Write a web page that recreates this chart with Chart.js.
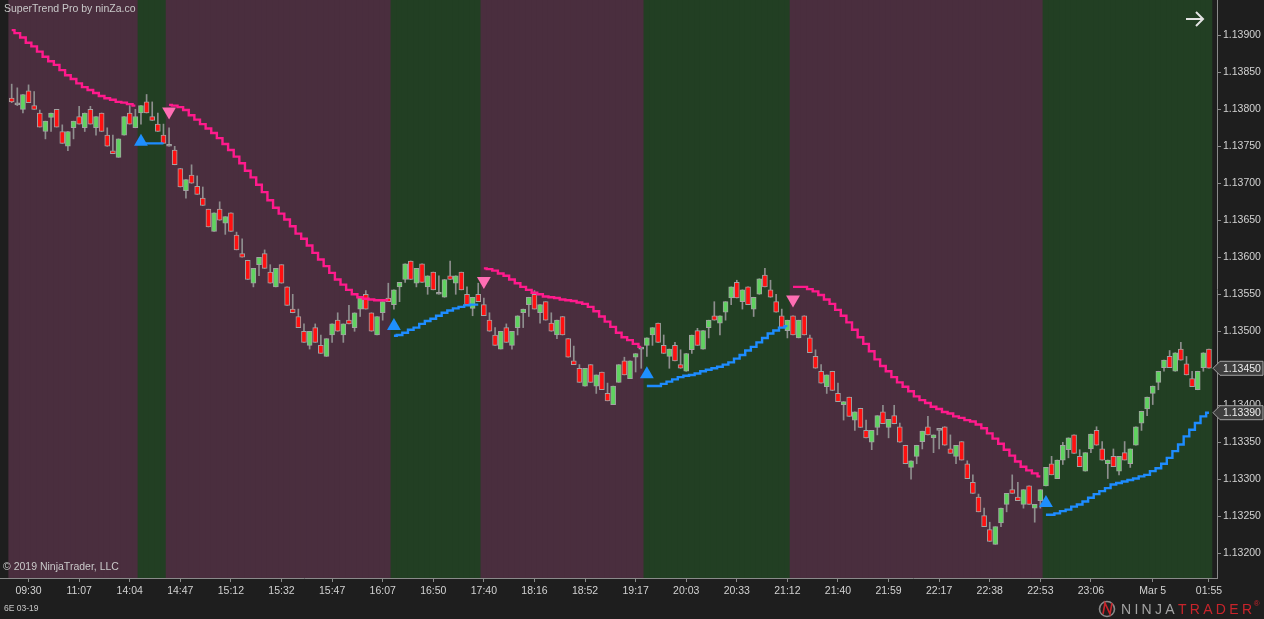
<!DOCTYPE html>
<html>
<head>
<meta charset="utf-8">
<script src="https://cdn.jsdelivr.net/npm/chart.js@4.4.1/dist/chart.umd.min.js"></script>
<style>
  html, body { margin: 0; padding: 0; background: #1e1e1e; overflow: hidden; }
  #wrap { position: relative; width: 1264px; height: 619px; }
</style>
</head>
<body>
<div id="wrap"><canvas id="myChart"></canvas></div>
<script>
/* 6E 03-19, SuperTrend Pro - one candle per slot, 214 bars */
const barOpen = [
  1.13815,1.13806,1.13800,1.13825,1.13805,1.13795,1.13770,1.13789,1.13800,1.13770,
  1.13750,1.13775,1.13790,1.13775,1.13800,1.13775,1.13795,1.13765,1.13744,1.13735,
  1.13765,1.13795,1.13775,1.13795,1.13810,1.13790,1.13780,1.13765,1.13750,1.13745,
  1.13720,1.13690,1.13711,1.13696,1.13680,1.13665,1.13635,1.13665,1.13646,1.13660,
  1.13630,1.13605,1.13596,1.13565,1.13590,1.13605,1.13580,1.13560,1.13590,1.13560,
  1.13530,1.13520,1.13500,1.13481,1.13505,1.13481,1.13466,1.13495,1.13515,1.13495,
  1.13515,1.13505,1.13530,1.13550,1.13525,1.13495,1.13525,1.13545,1.13536,1.13560,
  1.13570,1.13595,1.13565,1.13591,1.13560,1.13580,1.13550,1.13546,1.13575,1.13565,
  1.13580,1.13550,1.13531,1.13550,1.13536,1.13515,1.13495,1.13476,1.13505,1.13481,
  1.13505,1.13525,1.13536,1.13550,1.13525,1.13540,1.13511,1.13495,1.13520,1.13490,
  1.13460,1.13450,1.13426,1.13455,1.13426,1.13445,1.13416,1.13401,1.13431,1.13460,
  1.13436,1.13465,1.13476,1.13481,1.13495,1.13511,1.13481,1.13466,1.13481,1.13455,
  1.13446,1.13475,1.13501,1.13476,1.13505,1.13521,1.13511,1.13526,1.13545,1.13566,
  1.13540,1.13560,1.13530,1.13550,1.13576,1.13556,1.13540,1.13521,1.13501,1.13521,
  1.13491,1.13521,1.13491,1.13466,1.13446,1.13425,1.13446,1.13416,1.13401,1.13411,
  1.13380,1.13396,1.13366,1.13350,1.13370,1.13391,1.13370,1.13386,1.13371,1.13346,
  1.13316,1.13331,1.13351,1.13371,1.13356,1.13366,1.13371,1.13341,1.13331,1.13351,
  1.13321,1.13296,1.13276,1.13251,1.13232,1.13212,1.13241,1.13266,1.13286,1.13276,
  1.13266,1.13291,1.13261,1.13271,1.13291,1.13321,1.13301,1.13326,1.13340,1.13360,
  1.13331,1.13311,1.13341,1.13366,1.13341,1.13321,1.13331,1.13311,1.13336,1.13321,
  1.13346,1.13376,1.13395,1.13416,1.13431,1.13451,1.13466,1.13446,1.13476,1.13456,
  1.13436,1.13421,1.13451,1.13476
];
const barHigh = [
  1.13834,1.13829,1.13820,1.13833,1.13824,1.13799,1.13784,1.13795,1.13800,1.13779,
  1.13770,1.13784,1.13804,1.13795,1.13804,1.13790,1.13795,1.13775,1.13765,1.13760,
  1.13790,1.13805,1.13800,1.13805,1.13820,1.13810,1.13795,1.13780,1.13775,1.13750,
  1.13720,1.13705,1.13725,1.13710,1.13695,1.13665,1.13660,1.13675,1.13655,1.13660,
  1.13634,1.13625,1.13596,1.13585,1.13600,1.13610,1.13590,1.13585,1.13590,1.13560,
  1.13550,1.13530,1.13510,1.13500,1.13510,1.13495,1.13490,1.13510,1.13525,1.13510,
  1.13535,1.13525,1.13545,1.13555,1.13525,1.13520,1.13540,1.13565,1.13556,1.13566,
  1.13591,1.13595,1.13585,1.13591,1.13575,1.13580,1.13575,1.13570,1.13595,1.13575,
  1.13580,1.13560,1.13546,1.13565,1.13545,1.13525,1.13505,1.13500,1.13510,1.13500,
  1.13521,1.13530,1.13546,1.13555,1.13536,1.13540,1.13525,1.13515,1.13520,1.13490,
  1.13480,1.13455,1.13450,1.13455,1.13441,1.13445,1.13430,1.13426,1.13455,1.13465,
  1.13460,1.13470,1.13476,1.13491,1.13505,1.13511,1.13495,1.13476,1.13485,1.13475,
  1.13470,1.13495,1.13504,1.13501,1.13515,1.13540,1.13521,1.13540,1.13560,1.13569,
  1.13556,1.13560,1.13546,1.13571,1.13585,1.13569,1.13550,1.13530,1.13515,1.13521,
  1.13515,1.13521,1.13495,1.13475,1.13455,1.13441,1.13446,1.13430,1.13405,1.13411,
  1.13391,1.13396,1.13380,1.13366,1.13386,1.13400,1.13381,1.13400,1.13376,1.13346,
  1.13325,1.13346,1.13365,1.13385,1.13360,1.13366,1.13371,1.13360,1.13346,1.13351,
  1.13325,1.13306,1.13280,1.13261,1.13242,1.13236,1.13261,1.13281,1.13306,1.13296,
  1.13286,1.13291,1.13266,1.13286,1.13316,1.13331,1.13326,1.13350,1.13356,1.13360,
  1.13340,1.13336,1.13361,1.13371,1.13351,1.13326,1.13341,1.13331,1.13351,1.13341,
  1.13371,1.13392,1.13411,1.13426,1.13446,1.13461,1.13474,1.13471,1.13485,1.13466,
  1.13446,1.13446,1.13471,1.13476
];
const barLow = [
  1.13809,1.13805,1.13795,1.13809,1.13800,1.13776,1.13760,1.13770,1.13776,1.13754,
  1.13744,1.13760,1.13780,1.13770,1.13780,1.13765,1.13770,1.13750,1.13740,1.13735,
  1.13765,1.13780,1.13775,1.13780,1.13795,1.13785,1.13770,1.13754,1.13750,1.13725,
  1.13695,1.13680,1.13700,1.13685,1.13670,1.13641,1.13635,1.13650,1.13631,1.13635,
  1.13610,1.13600,1.13570,1.13560,1.13575,1.13585,1.13565,1.13560,1.13565,1.13535,
  1.13525,1.13505,1.13485,1.13476,1.13485,1.13470,1.13466,1.13485,1.13500,1.13485,
  1.13510,1.13500,1.13520,1.13530,1.13500,1.13495,1.13515,1.13540,1.13530,1.13540,
  1.13566,1.13570,1.13560,1.13566,1.13550,1.13556,1.13550,1.13546,1.13570,1.13550,
  1.13556,1.13536,1.13521,1.13540,1.13521,1.13500,1.13481,1.13476,1.13485,1.13476,
  1.13495,1.13505,1.13520,1.13530,1.13511,1.13515,1.13500,1.13490,1.13495,1.13465,
  1.13455,1.13431,1.13426,1.13431,1.13416,1.13421,1.13406,1.13401,1.13431,1.13441,
  1.13436,1.13445,1.13450,1.13466,1.13481,1.13485,1.13470,1.13450,1.13460,1.13450,
  1.13446,1.13470,1.13481,1.13476,1.13491,1.13515,1.13495,1.13515,1.13536,1.13545,
  1.13530,1.13536,1.13520,1.13550,1.13560,1.13546,1.13526,1.13505,1.13491,1.13495,
  1.13491,1.13495,1.13471,1.13450,1.13430,1.13416,1.13420,1.13405,1.13380,1.13385,
  1.13366,1.13370,1.13356,1.13340,1.13360,1.13375,1.13356,1.13375,1.13350,1.13321,
  1.13300,1.13321,1.13341,1.13360,1.13336,1.13341,1.13346,1.13335,1.13321,1.13326,
  1.13301,1.13281,1.13256,1.13236,1.13216,1.13212,1.13236,1.13256,1.13281,1.13271,
  1.13261,1.13266,1.13242,1.13261,1.13291,1.13306,1.13301,1.13320,1.13329,1.13335,
  1.13317,1.13311,1.13336,1.13346,1.13326,1.13301,1.13317,1.13306,1.13326,1.13316,
  1.13346,1.13366,1.13386,1.13401,1.13421,1.13446,1.13451,1.13446,1.13461,1.13441,
  1.13425,1.13421,1.13446,1.13450
];
const barClose = [
  1.13810,1.13806,1.13820,1.13809,1.13800,1.13776,1.13784,1.13795,1.13776,1.13754,
  1.13770,1.13784,1.13780,1.13795,1.13780,1.13790,1.13770,1.13750,1.13740,1.13760,
  1.13790,1.13780,1.13790,1.13805,1.13795,1.13785,1.13770,1.13754,1.13750,1.13725,
  1.13695,1.13705,1.13700,1.13685,1.13670,1.13641,1.13660,1.13650,1.13655,1.13635,
  1.13610,1.13600,1.13570,1.13585,1.13600,1.13585,1.13565,1.13585,1.13565,1.13535,
  1.13525,1.13505,1.13485,1.13500,1.13485,1.13470,1.13490,1.13510,1.13500,1.13510,
  1.13510,1.13525,1.13545,1.13530,1.13500,1.13520,1.13540,1.13540,1.13556,1.13566,
  1.13591,1.13570,1.13585,1.13566,1.13575,1.13556,1.13550,1.13570,1.13570,1.13575,
  1.13556,1.13536,1.13546,1.13540,1.13521,1.13500,1.13481,1.13500,1.13485,1.13500,
  1.13521,1.13530,1.13546,1.13530,1.13536,1.13515,1.13500,1.13515,1.13495,1.13465,
  1.13455,1.13431,1.13450,1.13431,1.13441,1.13421,1.13406,1.13426,1.13455,1.13441,
  1.13460,1.13470,1.13476,1.13491,1.13505,1.13485,1.13470,1.13476,1.13460,1.13450,
  1.13470,1.13495,1.13481,1.13501,1.13515,1.13515,1.13521,1.13540,1.13560,1.13545,
  1.13556,1.13536,1.13546,1.13571,1.13560,1.13546,1.13526,1.13505,1.13515,1.13495,
  1.13515,1.13495,1.13471,1.13450,1.13430,1.13441,1.13420,1.13405,1.13405,1.13385,
  1.13391,1.13370,1.13356,1.13366,1.13386,1.13375,1.13381,1.13375,1.13350,1.13321,
  1.13325,1.13346,1.13365,1.13360,1.13360,1.13366,1.13346,1.13335,1.13346,1.13326,
  1.13301,1.13281,1.13256,1.13236,1.13216,1.13236,1.13261,1.13281,1.13281,1.13271,
  1.13286,1.13266,1.13266,1.13286,1.13316,1.13306,1.13326,1.13346,1.13356,1.13335,
  1.13317,1.13336,1.13361,1.13346,1.13326,1.13326,1.13317,1.13331,1.13326,1.13341,
  1.13371,1.13392,1.13411,1.13426,1.13446,1.13461,1.13451,1.13471,1.13461,1.13441,
  1.13425,1.13446,1.13471,1.13450
];

/* SuperTrend: bearish (pink, above price) and bullish (blue, below price) runs */
const downRunStart = [0, 28, 84, 139];
const downRunValues = [
  [1.13907,1.13903,1.13897,1.13890,1.13885,1.13878,1.13871,1.13865,1.13860,1.13853,1.13846,1.13841,
   1.13835,1.13830,1.13826,1.13822,1.13818,1.13815,1.13813,1.13810,1.13809,1.13807,1.13805],
  [1.13806,1.13805,1.13803,1.13799,1.13792,1.13786,1.13780,1.13774,1.13768,1.13761,
   1.13753,1.13745,1.13736,1.13727,1.13717,1.13708,1.13698,1.13688,1.13677,1.13667,
   1.13659,1.13651,1.13642,1.13632,1.13625,1.13616,1.13606,1.13597,1.13588,1.13579,
   1.13570,1.13563,1.13556,1.13550,1.13546,1.13544,1.13543,1.13542,1.13542,1.13542],
  [1.13585,1.13584,1.13582,1.13578,1.13575,1.13570,1.13565,1.13560,1.13556,1.13552,
   1.13550,1.13547,1.13546,1.13545,1.13543,1.13542,1.13541,1.13539,1.13537,1.13533,
   1.13527,1.13520,1.13513,1.13506,1.13498,1.13492,1.13488,1.13483,1.13479],
  [1.13560,1.13560,1.13560,1.13557,1.13554,1.13549,1.13543,1.13537,1.13529,1.13521,
   1.13512,1.13502,1.13492,1.13483,1.13473,1.13462,1.13453,1.13446,1.13438,1.13431,
   1.13425,1.13419,1.13412,1.13407,1.13403,1.13398,1.13395,1.13391,1.13389,1.13385,
   1.13383,1.13380,1.13378,1.13374,1.13369,1.13362,1.13355,1.13348,1.13340,1.13332,
   1.13324,1.13317,1.13312,1.13308,1.13304]
];
const upRunStart = [23, 68, 113, 184];
const upRunValues = [
  [1.13754,1.13754,1.13754,1.13754,1.13754],
  [1.13494,1.13495,1.13498,1.13502,1.13505,1.13510,1.13514,1.13517,1.13521,1.13525,
   1.13528,1.13531,1.13533,1.13535,1.13536,1.13536],
  [1.13426,1.13426,1.13426,1.13429,1.13432,1.13435,1.13438,1.13440,1.13441,1.13443,
   1.13446,1.13448,1.13450,1.13452,1.13455,1.13458,1.13463,1.13468,1.13474,1.13479,
   1.13485,1.13491,1.13497,1.13501,1.13505,1.13507],
  [1.13252,1.13252,1.13254,1.13257,1.13259,1.13263,1.13266,1.13270,1.13275,1.13280,
   1.13284,1.13288,1.13293,1.13295,1.13297,1.13299,1.13301,1.13304,1.13306,1.13311,
   1.13315,1.13321,1.13329,1.13338,1.13347,1.13358,1.13367,1.13376,1.13385,1.13390]
];

/* trend change arrows: [bar, price] */
const upArrows = [[23, 1.13756], [68, 1.13507], [113, 1.13442], [184, 1.13268]];
const downArrows = [[28, 1.13797], [84, 1.13568], [139, 1.13543]];

/* axis ticks */
const timeTickBars = [3, 12, 21, 30, 39, 48, 57, 66, 75, 84, 93, 102, 111, 120, 129, 138, 147, 156, 165, 174, 183, 192, 203, 213];
const timeTickLabels = ["09:30", "11:07", "14:04", "14:47", "15:12", "15:32", "15:47", "16:07", "16:50", "17:40", "18:16", "18:52",
  "19:17", "20:03", "20:33", "21:12", "21:40", "21:59", "22:17", "22:38", "22:53", "23:06", "Mar 5", "01:55"];
const priceTicks = [1.132, 1.1325, 1.133, 1.1335, 1.134, 1.1345, 1.135, 1.1355, 1.136, 1.1365, 1.137, 1.1375, 1.138, 1.1385, 1.139];

const yMin = 1.131666, yMax = 1.139477;
const xMin = -2.08, xMax = 214.43;

const MAROON = '#4a2e3e', GREEN = '#223f23';
const PINK = '#ff1a8c', BLUE = '#1e8cff';
const UP_BODY = '#5fd35f', DOWN_BODY = '#ff1010', FLAT_BODY = '#8c8c8c';

const n = barClose.length;
const downLine = new Array(n).fill(null);
const upLine = new Array(n).fill(null);
downRunStart.forEach((s, k) => downRunValues[k].forEach((v, j) => { downLine[s + j] = v; }));
upRunStart.forEach((s, k) => upRunValues[k].forEach((v, j) => { upLine[s + j] = v; }));

const shadeData = [], shadeColors = [], wickData = [], bodyData = [], bodyColors = [];
for (let i = 0; i < n; i++) {
    shadeData.push({x: i, y: [yMin, yMax]});
    shadeColors.push(downLine[i] !== null ? MAROON : GREEN);
    wickData.push({x: i, y: [barLow[i], barHigh[i]]});
    bodyData.push({x: i, y: [barOpen[i], barClose[i]]});
    if (barClose[i] > barOpen[i]) bodyColors.push(UP_BODY);
    else if (barClose[i] < barOpen[i]) bodyColors.push(DOWN_BODY);
    else bodyColors.push(FLAT_BODY);
}

const FONT = "'Liberation Sans', Arial, sans-serif";
Chart.defaults.font.family = FONT;
Chart.defaults.font.size = 10.5;
Chart.defaults.color = '#d2d2d2';

/* texts, price markers and logo drawn over the chart */
const overlay = {
    id: 'overlay',
    afterDraw(chart) {
        const c = chart.ctx, area = chart.chartArea, ys = chart.scales.y;
        c.save();
        c.textBaseline = 'middle';
        c.textAlign = 'left';

        c.fillStyle = '#c9c9c9';
        c.font = "10.5px " + FONT;
        c.fillText('SuperTrend Pro by ninZa.co', 4, 9);
        c.fillText('\u00a9 2019 NinjaTrader, LLC', 3, 567);
        c.font = "8.5px " + FONT;
        c.fillText('6E 03-19', 4, 609);

        // arrow in the top right corner
        c.strokeStyle = '#e4e4e4';
        c.lineWidth = 2;
        c.beginPath();
        c.moveTo(1186, 19); c.lineTo(1203, 19);
        c.moveTo(1196, 12); c.lineTo(1203, 19); c.lineTo(1196, 26);
        c.stroke();

        // price markers on the right axis
        const marker = (price) => {
            const yp = ys.getPixelForValue(price);
            const x0 = area.right - 4, x1 = chart.width - 1, h = 14;
            c.beginPath();
            c.moveTo(x0, yp);
            c.lineTo(x0 + 7, yp - h / 2);
            c.lineTo(x1, yp - h / 2);
            c.lineTo(x1, yp + h / 2);
            c.lineTo(x0 + 7, yp + h / 2);
            c.closePath();
            c.fillStyle = '#3e3e3e';
            c.fill();
            c.lineWidth = 1;
            c.strokeStyle = '#a4a4a4';
            c.stroke();
            c.fillStyle = '#ececec';
            c.font = "10.5px " + FONT;
            c.fillText(price.toFixed(5), x0 + 10, yp + 0.5);
        };
        marker(barClose[n - 1]);
        marker(upLine[n - 1]);

        // NinjaTrader logo
        c.lineWidth = 1.6;
        c.strokeStyle = '#8a8a8a';
        c.beginPath(); c.arc(1107, 609, 7.5, 0, Math.PI * 2); c.stroke();
        c.strokeStyle = '#c8242b';
        c.beginPath(); c.moveTo(1103, 614); c.lineTo(1105, 603); c.lineTo(1110, 614); c.lineTo(1112, 603); c.stroke();
        c.font = "14px " + FONT;
        let lx = 1121;
        const word = 'NINJATRADER';
        for (let i = 0; i < word.length; i++) {
            c.fillStyle = i < 5 ? '#a3a3a3' : '#c8242b';
            c.fillText(word[i], lx, 610);
            lx += c.measureText(word[i]).width + 3.3;
        }
        c.font = "8px " + FONT;
        c.fillText('\u00ae', lx - 1.5, 604);
        c.restore();
    }
};

const chart = new Chart(document.getElementById('myChart'), {
    type: 'bar',
    data: {
        datasets: [
            {
                label: 'shade',
                data: shadeData,
                backgroundColor: shadeColors,
                barThickness: 6,
                grouped: false,
                borderWidth: 0,
                order: 10
            },
            {
                label: 'wick',
                data: wickData,
                backgroundColor: '#8e8e8e',
                barThickness: 1,
                grouped: false,
                borderWidth: 0,
                order: 6
            },
            {
                label: 'body',
                data: bodyData,
                backgroundColor: bodyColors,
                borderColor: '#a2a2a2',
                borderWidth: 1,
                borderSkipped: false,
                barThickness: 5,
                minBarLength: 2,
                grouped: false,
                order: 5
            },
            {
                type: 'line',
                label: 'SuperTrend down',
                data: downLine.map((v, i) => ({x: i, y: v})),
                borderColor: PINK,
                borderWidth: 2.4,
                stepped: 'middle',
                pointRadius: 0,
                spanGaps: false,
                fill: false,
                order: 3
            },
            {
                type: 'line',
                label: 'SuperTrend up',
                data: upLine.map((v, i) => ({x: i, y: v})),
                borderColor: BLUE,
                borderWidth: 2.4,
                stepped: 'middle',
                pointRadius: 0,
                spanGaps: false,
                fill: false,
                order: 3
            },
            {
                type: 'scatter',
                label: 'long signal',
                data: upArrows.map(a => ({x: a[0], y: a[1]})),
                pointStyle: 'triangle',
                pointRadius: 8,
                backgroundColor: '#1e8fff',
                borderWidth: 0,
                order: 1
            },
            {
                type: 'scatter',
                label: 'short signal',
                data: downArrows.map(a => ({x: a[0], y: a[1]})),
                pointStyle: 'triangle',
                rotation: 180,
                pointRadius: 8,
                backgroundColor: '#ff6eb4',
                borderWidth: 0,
                order: 1
            }
        ]
    },
    options: {
        responsive: true,
        maintainAspectRatio: false,
        animation: false,
        layout: {padding: 0, autoPadding: false},
        plugins: {
            legend: {display: false},
            tooltip: {enabled: false}
        },
        scales: {
            x: {
                type: 'linear',
                position: 'bottom',
                offset: false,
                min: xMin,
                max: xMax,
                grid: {drawOnChartArea: false, drawTicks: true, tickLength: 4, offset: false, color: '#8a8a8a'},
                border: {display: true, color: '#8a8a8a'},
                ticks: {
                    autoSkip: false,
                    maxRotation: 0,
                    padding: 3,
                    color: '#d2d2d2',
                    callback: (value, index) => timeTickLabels[index]
                },
                afterBuildTicks: (scale) => {
                    scale.ticks = timeTickBars.map(v => ({value: v}));
                },
                afterFit: (scale) => {
                    scale.height = 41;
                    scale.paddingLeft = 0;
                    scale.paddingRight = 0;
                }
            },
            y: {
                type: 'linear',
                position: 'right',
                min: yMin,
                max: yMax,
                grid: {drawOnChartArea: false, drawTicks: true, tickLength: 4, color: '#8a8a8a'},
                border: {display: true, color: '#8a8a8a'},
                ticks: {
                    padding: 2,
                    color: '#d2d2d2',
                    callback: (value) => Number(value).toFixed(5)
                },
                afterBuildTicks: (scale) => {
                    scale.ticks = priceTicks.map(v => ({value: v}));
                },
                afterFit: (scale) => {
                    scale.width = 47;
                    scale.paddingTop = 0;
                    scale.paddingBottom = 0;
                }
            }
        }
    },
    plugins: [overlay]
});
</script>
</body>
</html>
